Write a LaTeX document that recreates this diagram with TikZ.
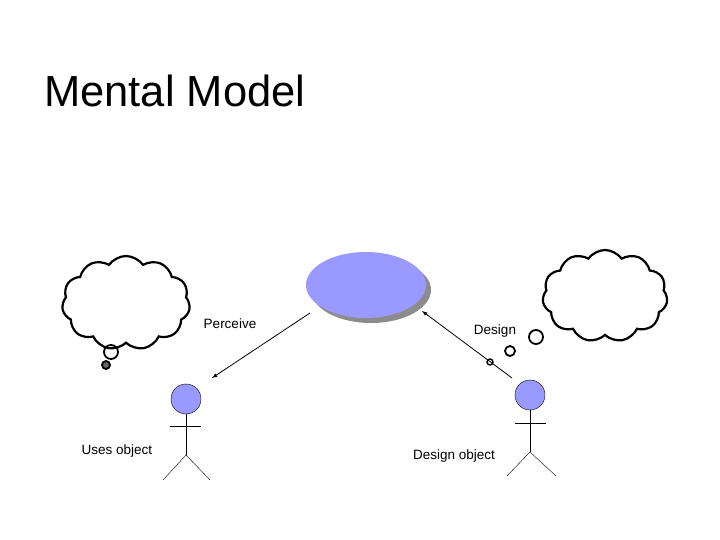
\documentclass[tikz,border=0pt]{standalone}
\usepackage{fontspec}
\setmainfont{Liberation Sans}
\usetikzlibrary{shapes.symbols,shapes.geometric}
\definecolor{lav}{RGB}{153,153,255}
\tikzset{
 thought/.style={cloud, cloud puffs=11, cloud puff arc=110, draw, line width=2.2pt, aspect=1.35, inner sep=0pt},
 bub/.style={circle, draw, line width=1.8pt, inner sep=0pt},
 head/.style={circle, draw, fill=lav, minimum size=30pt, inner sep=0pt},
 lbl/.style={font=\fontsize{13.5}{15}\selectfont, inner sep=0pt},
 arr/.style={-latex, line width=0.8pt}
}
\begin{document}
\begin{tikzpicture}[x=1pt,y=-1pt]
\useasboundingbox (0,0) rectangle (720,540);
\node[anchor=base west, inner sep=0pt, font=\fontsize{43.5}{46}\selectfont] (title) at (44,107) {Mental Model};
% object ellipse
\fill[gray!90] (371,290) ellipse [x radius=60, y radius=33];
\node[ellipse, fill=lav, minimum width=120pt, minimum height=66pt, inner sep=0pt] (obj) at (366,285) {};
% clouds
\node[thought, minimum width=128pt, minimum height=94pt] (c1) at (126,303) {};
\node[bub, minimum size=14pt] (b1) at (111,352) {};
\node[bub, minimum size=8pt, fill=black!60] (b2) at (106,365) {};
\node[thought, minimum width=125pt, minimum height=92pt] (c2) at (605,296) {};
\node[bub, minimum size=14pt] (b3) at (536,337) {};
\node[bub, minimum size=10pt] (b4) at (510,351) {};
\node[bub, minimum size=6pt, line width=1.4pt] (b5) at (490,362) {};
% persons
\node[head] (h1) at (186,399) {};
\draw (h1.south) -- (186,455) coordinate (hip1);
\draw (170,426) coordinate (a1) -- (201,426) coordinate (a2);
\draw (163,480) coordinate (f1) -- (hip1) -- (210,480) coordinate (f2);
\node[head] (h2) at (530,395) {};
\draw (h2.south) -- (530,452) coordinate (hip2);
\draw (515,423) coordinate (a3) -- (546,423) coordinate (a4);
\draw (507,476) coordinate (f3) -- (hip2) -- (556,476) coordinate (f4);
% arrows
\coordinate (p1) at (310,313);
\coordinate (p2) at (212,378);
\draw[arr] (p1) -- (p2);
\coordinate (d1) at (512,378);
\coordinate (d2) at (422,311);
\draw[arr] (d1) -- (d2);
% labels
\node[lbl] (lp) at (230,324) {Perceive};
\node[lbl] (lu) at (117,451) {Uses object};
\node[lbl] (ld) at (495,331) {Design};
\node[lbl] (ldo) at (454,456) {Design object};
\end{tikzpicture}
\end{document}
